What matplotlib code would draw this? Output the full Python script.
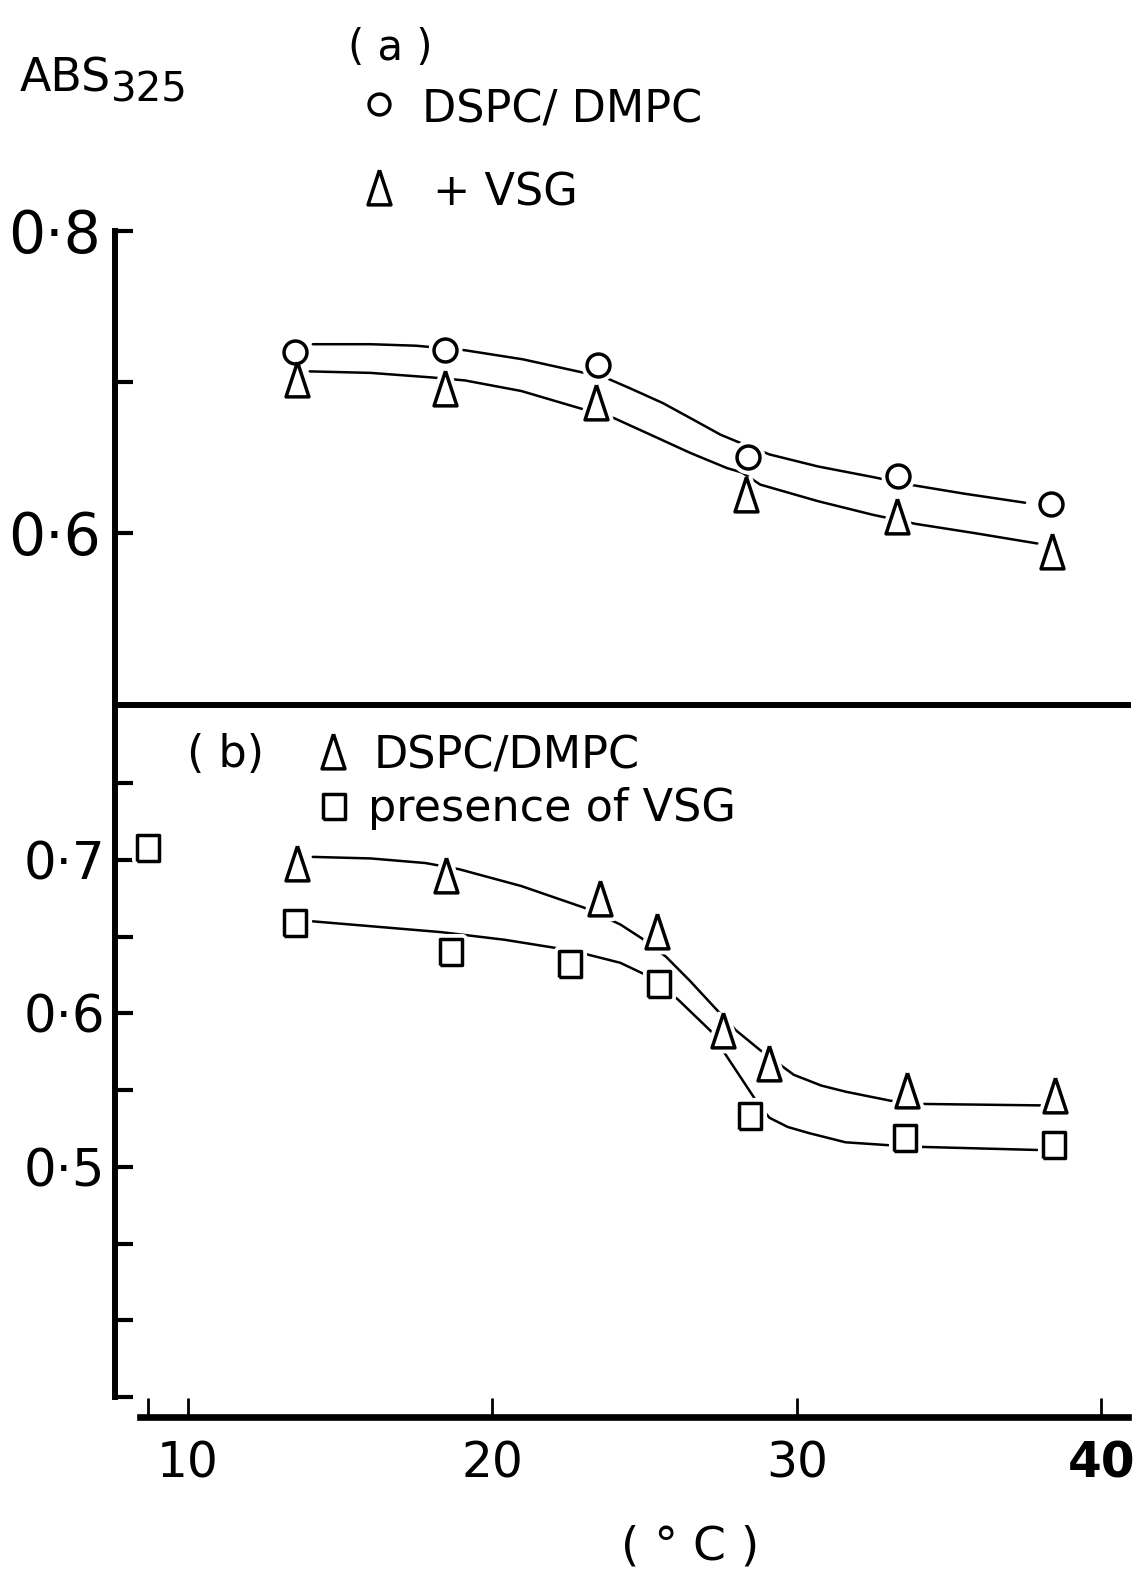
import matplotlib
matplotlib.use("Agg")
import matplotlib.pyplot as plt
from matplotlib.lines import Line2D

plt.rcParams["font.family"] = ["DejaVu Sans"]

# ---------------- data ----------------
# panel (a)
temp_a_lipid = [13.50, 18.45, 23.47, 28.39, 33.31, 38.36]
abs_a_lipid = [0.720, 0.721, 0.711, 0.650, 0.638, 0.619]
temp_a_vsg = [13.57, 18.45, 23.40, 28.32, 33.28, 38.39]
abs_a_vsg = [0.702, 0.696, 0.687, 0.626, 0.611, 0.588]

# hand-drawn fitted curves, panel (a)
curve_a_lipid_t = [14.1, 16.0, 17.5, 19.1, 21.0, 22.8, 23.7, 24.5, 25.6, 26.6, 27.5, 28.1, 29.1, 30.7, 32.5, 33.7, 35.5, 37.5]
curve_a_lipid_y = [0.725, 0.725, 0.724, 0.721, 0.715, 0.707, 0.703, 0.696, 0.686, 0.675, 0.665, 0.660, 0.652, 0.644, 0.637, 0.632, 0.626, 0.620]
curve_a_vsg_t = [14.0, 16.0, 18.0, 19.1, 20.95, 22.8, 24.0, 25.2, 26.5, 27.7, 28.2, 28.8, 30.7, 32.5, 33.9, 35.8, 37.9]
curve_a_vsg_y = [0.707, 0.706, 0.703, 0.701, 0.694, 0.683, 0.676, 0.665, 0.653, 0.643, 0.640, 0.632, 0.621, 0.612, 0.606, 0.600, 0.593]

# panel (b)
temp_b_lipid = [13.57, 18.49, 23.54, 25.40, 27.56, 29.09, 33.61, 38.49]
abs_b_lipid = [0.698, 0.690, 0.675, 0.654, 0.589, 0.568, 0.550, 0.547]
temp_b_vsg = [8.68, 13.50, 18.65, 22.54, 25.47, 28.46, 33.54, 38.46]
abs_b_vsg = [0.708, 0.659, 0.640, 0.632, 0.619, 0.533, 0.519, 0.514]

curve_b_lipid_t = [14.1, 16.0, 17.8, 18.9, 20.95, 23.0, 24.2, 24.9, 25.7, 26.5, 27.2, 28.0, 28.8, 29.9, 30.8, 31.6, 33.1, 34.1, 38.2]
curve_b_lipid_y = [0.702, 0.701, 0.698, 0.694, 0.683, 0.669, 0.658, 0.649, 0.637, 0.621, 0.606, 0.589, 0.576, 0.560, 0.553, 0.549, 0.543, 0.541, 0.540]
curve_b_vsg_t = [14.1, 18.3, 20.4, 22.6, 24.2, 25.05, 26.1, 27.2, 27.6, 28.7, 29.1, 29.7, 30.4, 31.6, 33.1, 34.1, 37.9]
curve_b_vsg_y = [0.660, 0.653, 0.648, 0.641, 0.633, 0.625, 0.609, 0.588, 0.575, 0.542, 0.532, 0.526, 0.522, 0.516, 0.514, 0.513, 0.511]

x_ticks = [8.68, 10, 20, 30, 40]
x_ticklabels = ["", "10", "20", "30", "40"]
ya_ticks = [0.6, 0.7, 0.8]
ya_ticklabels = ["0\u00b76", "", "0\u00b78"]
yb_ticks = [0.35, 0.40, 0.45, 0.50, 0.55, 0.60, 0.65, 0.70, 0.75]
yb_ticklabels = ["", "", "", "0\u00b75", "", "0\u00b76", "", "0\u00b77", ""]

# ---------------- layout ----------------
W, H = 1134, 1586
fig = plt.figure(figsize=(W / 100, H / 100), dpi=100)


def fx(px):
    return px / W


def fy(py):
    return 1 - py / H


left_px, right_px = 115, 1128
top_a, div_px, bot_b = 231, 705, 1397

ax_a = fig.add_axes([fx(left_px), fy(div_px), (right_px - left_px) / W, (div_px - top_a) / H])
ax_b = fig.add_axes([fx(left_px), fy(bot_b), (right_px - left_px) / W, (bot_b - div_px) / H])

# x scale: 10 at 188 px, 10 degrees per 304.4 px
xlim = (10 + (left_px - 188) / 30.44, 10 + (right_px - 188) / 30.44)
for ax in (ax_a, ax_b):
    ax.set_xlim(*xlim)
    ax.patch.set_alpha(0)
    ax.spines["right"].set_visible(False)
    ax.spines["left"].set_linewidth(4.3)
    ax.tick_params(axis="y", direction="in", length=13, width=3, pad=10)

ax_a.set_ylim(0.486, 0.8)
ax_b.set_ylim(0.35, 0.801)

ax_a.spines["top"].set_visible(False)
ax_a.spines["bottom"].set_visible(False)
ax_a.tick_params(axis="x", bottom=False, labelbottom=False)
ax_a.set_yticks(ya_ticks)
ax_a.set_yticklabels(ya_ticklabels, fontsize=42)

ax_b.spines["top"].set_linewidth(4.3)
ax_b.spines["bottom"].set_linewidth(4.8)
ax_b.spines["bottom"].set_position(("outward", 14.4))
ax_b.spines["bottom"].set_bounds(8.43, xlim[1])
ax_b.set_yticks(yb_ticks)
ax_b.set_yticklabels(yb_ticklabels, fontsize=37)
ax_b.tick_params(axis="y", pad=7)
ax_b.set_xticks(x_ticks)
ax_b.set_xticklabels(x_ticklabels, fontsize=35)
ax_b.tick_params(axis="x", direction="in", length=14, width=2, pad=16)
ax_b.get_xticklabels()[-1].set_fontweight("bold")

# markers
tri = [(0, 1), (-0.66, -1), (0.66, -1), (0, 1)]
sq = [(-0.85, -1), (0.85, -1), (0.85, 1), (-0.85, 1), (-0.85, -1)]

MEW = 2.5
HALO = 8
LW = 1.8


def draw(ax, ct, cy, t, y, marker, ms):
    ax.plot(ct, cy, color="black", lw=LW, zorder=2, solid_capstyle="round", solid_joinstyle="round")
    ax.plot(t, y, ls="none", marker=marker, ms=ms, mfc="white", mec="white", mew=HALO, zorder=3)
    ax.plot(t, y, ls="none", marker=marker, ms=ms, mfc="white", mec="black", mew=MEW, zorder=4)


draw(ax_a, curve_a_lipid_t, curve_a_lipid_y, temp_a_lipid, abs_a_lipid, "o", 16.5)
draw(ax_a, curve_a_vsg_t, curve_a_vsg_y, temp_a_vsg, abs_a_vsg, tri, 25)
draw(ax_b, curve_b_lipid_t, curve_b_lipid_y, temp_b_lipid, abs_b_lipid, tri, 25)
draw(ax_b, curve_b_vsg_t, curve_b_vsg_y, temp_b_vsg, abs_b_vsg, sq, 19)

# ---------------- texts & legend glyphs ----------------
fig.text(fx(20), fy(92), "ABS", fontsize=33, ha="left", va="baseline")
fig.text(fx(111), fy(101), "325", fontsize=29, ha="left", va="baseline")
fig.text(fx(390), fy(60), "( a )", fontsize=30, ha="center", va="baseline")


def glyph(px, py, marker, ms):
    fig.add_artist(Line2D([fx(px)], [fy(py)], transform=fig.transFigure, ls="none",
                          marker=marker, ms=ms, mfc="white", mec="black", mew=MEW))


glyph(379, 104, "o", 15)
fig.text(fx(422), fy(122), "DSPC/ DMPC", fontsize=32, ha="left", va="baseline")
glyph(379, 187, tri, 25)
fig.text(fx(433), fy(205), "+ VSG", fontsize=32, ha="left", va="baseline")

fig.text(fx(187), fy(767), "( b)", fontsize=32, ha="left", va="baseline")
glyph(333, 751, tri, 25)
fig.text(fx(374), fy(769), "DSPC/DMPC", fontsize=32, ha="left", va="baseline")
glyph(334, 806, sq, 18)
fig.text(fx(368), fy(821), "presence of VSG", fontsize=32, ha="left", va="baseline")

fig.text(fx(690), fy(1560), "( \u00b0 C )", fontsize=34, ha="center", va="baseline")

fig.savefig("out.png", dpi=100)
